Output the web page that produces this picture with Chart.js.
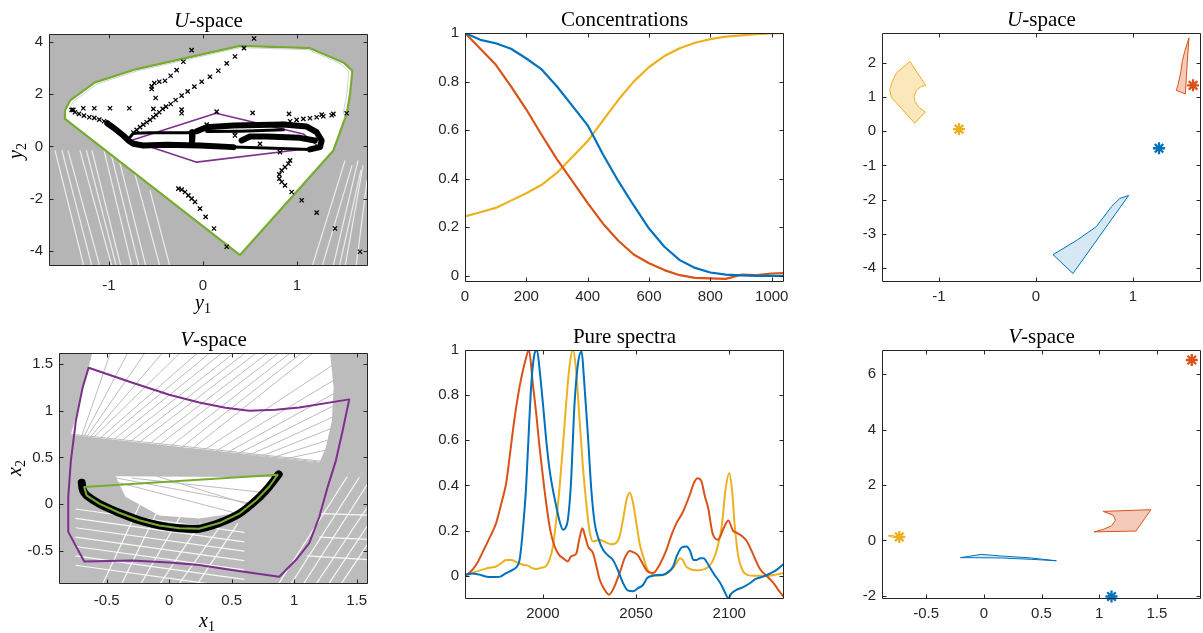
<!DOCTYPE html>
<html>
<head>
<meta charset="utf-8">
<script src="https://cdn.jsdelivr.net/npm/chart.js@4.4.1/dist/chart.umd.min.js"></script>
<style>
html,body{margin:0;padding:0;background:#fff;overflow:hidden;width:1203px;height:633px;position:relative}
canvas{position:absolute}
.t{position:absolute;font-family:"Liberation Serif","Times New Roman",serif;color:#000;white-space:nowrap}
.title{font-size:21px;line-height:21px;text-align:center}
.lab{font-size:20px;line-height:20px;font-style:italic}
.lab sub{font-size:14px;font-style:normal;vertical-align:-4px;line-height:0}
</style>
</head>
<body>
<script>
// ---------------- colours ----------------
const C_BLUE = '#0072BD', C_RED = '#D95319', C_YEL = '#EDB120';
const C_GREEN = '#77AC30', C_PURPLE = '#7E2F8E';

// ================= U-space (scores) =================
const uXTicks = [-1, 0, 1];
const uYTicks = [-4, -2, 0, 2, 4];
const uFeasibleRegion = [[-2,-5],[2,-5],[2,5],[-2,5],[-2,-5]];
const uHull = [[-1.468,1.371],[-1.415,1.752],[-1.149,2.451],[-0.706,2.959],[0.394,3.848],[1.138,3.759],
  [1.493,3.213],[1.589,2.895],[1.564,2.006],[1.528,1.244],[1.387,-0.152],[0.394,-4.152],[-1.468,1.054],[-1.468,1.371]];
const uHullEdge = [[-1.43,1.36],[-1.38,1.72],[-1.12,2.40],[-0.69,2.90],[0.394,3.78],[1.12,3.70],
  [1.46,3.17],[1.55,2.87],[1.53,2.0],[1.49,1.24]];
const uInner = [[-0.766,0.23],[0.138,1.27],[1.067,0.48],[1.237,-0.03],[-0.067,-0.60],[-0.766,0.23]];
const uGaps = [
  [[-1.266,-4.6],[-1.574,-0.152]], [[-1.18,-4.6],[-1.50,-0.152]], [[-1.096,-4.6],[-1.436,-0.152]],
  [[-0.968,-4.6],[-1.309,-0.152]], [[-0.92,-4.6],[-1.24,-0.152]], [[-0.872,-4.6],[-1.181,-0.152]],
  [[-0.755,-4.6],[-1.053,-0.152]], [[-0.68,-4.6],[-0.98,-0.25]], [[-0.606,-4.6],[-0.904,-0.343]],
  [[-0.457,-4.6],[-0.734,-0.914]], [[-0.351,-4.6],[-0.564,-1.676]],
  [[1.160,-4.6],[1.511,-0.533]], [[1.266,-4.6],[1.585,-0.724]], [[1.383,-4.6],[1.649,-0.533]],
  [[1.45,-4.6],[1.68,-0.9]], [[1.511,-4.6],[1.702,-0.724]], [[1.628,-4.6],[1.745,-1.295]]
];
const uPoints = [
  [0.340,3.441],[0.252,3.175],[0.163,2.895],[0.074,2.667],[-0.014,2.476],[-0.092,2.286],[-0.163,2.108],
  [-0.227,1.943],[-0.291,1.778],[-0.344,1.625],[-0.394,1.524],[-0.429,1.435],[-0.465,1.308],[-0.5,1.206],
  [-0.528,1.117],[-0.564,1.016],[-0.599,0.927],[-0.635,0.838],[-0.670,0.737],[-0.706,0.635],[-0.741,0.533],
  [0.436,3.759],[0.543,4.127],
  [-0.121,3.683],[-0.209,3.238],[-0.280,2.921],[-0.344,2.705],[-0.404,2.514],[-0.465,2.476],[-0.518,2.425],
  [-0.546,2.298],[-0.546,2.197],[-0.504,1.854],[-0.528,1.435],[-0.227,1.410],[-0.227,1.270],[0.039,0.838],
  [0.340,0.546],[0.340,0.419],
  [-1.379,1.397],[-1.273,1.460],[-1.156,1.460],[-0.989,1.460],[-0.784,1.460],[0.145,1.333],[0.528,1.283],
  [0.915,1.244],[1.262,1.219],[1.387,1.244],[1.528,1.270],
  [-1.397,1.397],[-1.362,1.308],[-1.319,1.244],[-1.266,1.181],[-1.209,1.117],[-1.156,1.092],[-1.103,1.029],[-1.053,0.965],
  [0.855,0.863],[0.926,0.965],[0.996,1.016],[1.067,1.054],[1.138,1.079],[1.209,1.117],[1.280,1.156],[1.369,1.194],
  [0.926,-0.533],[0.908,-0.660],[0.872,-0.787],[0.837,-0.914],[0.812,-1.067],[0.812,-1.232],[0.837,-1.359],
  [0.872,-1.486],[0.943,-1.740],[1.050,-2.057],[1.209,-2.527],[1.404,-3.137],[1.670,-4.025],
  [0.606,0.102],[0.819,-0.216],
  [-0.262,-1.613],[-0.227,-1.651],[-0.191,-1.740],[-0.156,-1.867],[-0.121,-1.994],[-0.085,-2.121],
  [-0.032,-2.375],[0.028,-2.692],[0.117,-3.137],[0.252,-3.835]
];
const uDenseTracks = [
  [[-1.018,0.889],[-0.936,0.673],[-0.848,0.419],[-0.794,0.229],[-0.741,0.102],[-0.635,0.038],[-0.387,0.063],[-0.032,0.038],[0.323,-0.025]],
  [[-0.067,0.584],[0.039,0.737],[0.323,0.8],[0.855,0.838],[1.103,0.762],[1.209,0.546],[1.262,0.229],[1.245,-0.025],[1.138,-0.114]],
  [[0.411,0.229],[0.5,0.381],[0.677,0.381],[1.032,0.330],[1.191,0.229]],
  [[-0.110,0.546],[-0.117,0.076]]
];
const uThinTracks = [
  [[-0.777,0.356],[-0.741,0.508],[-0.564,0.521],[-0.121,0.521]],
  [[0.323,-0.025],[0.677,-0.063],[1.138,-0.114]],
  [[0.039,0.571],[0.394,0.584],[0.855,0.635]]
];

// ================= Concentrations =================
const concTime = [0,50,100,150,200,250,300,350,400,450,500,550,600,650,700,750,800,850,900,950,1000,1040];
const concBlue = [1.0,0.972,0.958,0.935,0.895,0.85,0.78,0.70,0.62,0.50,0.39,0.29,0.195,0.12,0.065,0.033,0.014,0.005,0.002,0.0,0.0,0.0];
const concRed  = [1.0,0.935,0.87,0.78,0.685,0.58,0.48,0.39,0.30,0.215,0.145,0.088,0.052,0.024,0.003,-0.008,-0.01,-0.012,0.005,0.003,0.01,0.012];
const concYel  = [0.245,0.262,0.28,0.31,0.34,0.375,0.425,0.49,0.555,0.64,0.725,0.80,0.86,0.905,0.937,0.96,0.975,0.985,0.99,0.995,0.998,1.0];
const concXTicks = [0,200,400,600,800,1000];
const concYTicks = [0,0.2,0.4,0.6,0.8,1];

// ================= U-space (regions) =================
const u2XTicks = [-1, 0, 1];
const u2YTicks = [-4,-3,-2,-1,0,1,2];
const u2RegionYel = [[-1.302,2.04],[-1.440,1.70],[-1.481,1.46],[-1.509,1.22],[-1.491,0.98],[-1.423,0.78],[-1.251,0.23],
  [-1.141,0.56],[-1.206,0.69],[-1.247,0.86],[-1.258,1.02],[-1.234,1.19],[-1.192,1.29],[-1.137,1.34],[-1.302,2.04]];
const u2RegionRed = [[1.577,2.73],[1.533,2.33],[1.509,2.06],[1.491,1.70],[1.464,1.36],[1.447,1.19],[1.540,1.09],
  [1.550,1.56],[1.560,2.04],[1.577,2.73]];
const u2RegionBlue = [[0.955,-1.88],[0.863,-1.97],[0.777,-2.21],[0.622,-2.79],[0.416,-3.20],[0.175,-3.61],[0.381,-4.16],[0.955,-1.88]];
const u2TrueYel = [[-0.794,0.06]];
const u2TrueBlue = [[1.268,-0.50]];
const u2TrueRed = [[1.619,1.34]];

// ================= V-space (loadings) =================
const vXTicks = [-0.5,0,0.5,1,1.5];
const vYTicks = [-0.5,0,0.5,1,1.5];
const vMesh = [[-1,-1],[1.7,-1],[1.7,1.8],[-1,1.8],[-1,-1]];
const vOpenUpper = [[-0.6,1.7],[1.28,1.7],[1.315,1.246],[1.301,0.892],[1.253,0.609],[1.2,0.439],[-0.787,0.743],[-0.72,1.069],[-0.6,1.7]];
const vOpenLower = [[-0.43,0.30],[0.85,0.29],[0.76,0.10],[0.667,0.02],[0.5,-0.10],[0.24,-0.15],[-0.08,-0.12],[-0.35,0.08],[-0.43,0.30]];
const vLightLines = [
  [[-0.75,-0.05],[0.6,-0.30]],[[-0.75,-0.15],[0.6,-0.40]],[[-0.75,-0.25],[0.6,-0.50]],[[-0.75,-0.35],[0.6,-0.60]],
  [[-0.75,-0.45],[0.6,-0.70]],[[-0.75,-0.55],[0.6,-0.80]],[[-0.75,-0.65],[0.6,-0.90]],
  [[-0.55,-0.9],[-0.2,0.1]],[[-0.4,-0.9],[-0.05,0.05]],[[-0.25,-0.9],[0.1,-0.1]],[[-0.1,-0.9],[0.25,-0.2]],
  [[0.05,-0.9],[0.4,-0.25]],[[0.2,-0.9],[0.55,-0.2]],
  [[0.95,-0.9],[1.55,0.35]],[[1.05,-0.9],[1.65,0.35]],[[1.15,-0.9],[1.7,0.2]],[[1.25,-0.9],[1.7,0.0]],
  [[1.35,-0.9],[1.7,-0.2]],[[0.85,-0.9],[1.45,0.35]],
  [[1.2,-0.1],[1.7,-0.12]],[[1.2,-0.35],[1.7,-0.38]],[[1.1,-0.55],[1.7,-0.6]]
];
const vFanLines = [
  [[-0.70,0.73],[-0.45,1.7]],[[-0.68,0.73],[-0.30,1.7]],[[-0.66,0.72],[-0.15,1.7]],
  [[-0.63,0.72],[0.00,1.7]],[[-0.60,0.72],[0.15,1.7]],[[-0.55,0.71],[0.30,1.7]],
  [[-0.50,0.705],[0.40,1.7]],[[-0.44,0.695],[0.50,1.7]],[[-0.38,0.68],[0.60,1.7]],[[-0.31,0.67],[0.69,1.7]],
  [[-0.24,0.66],[0.78,1.7]],[[-0.16,0.645],[0.87,1.7]],[[-0.08,0.635],[0.96,1.7]],[[0.01,0.62],[1.05,1.7]],
  [[0.10,0.61],[1.14,1.7]],[[0.19,0.60],[1.23,1.7]],[[0.28,0.58],[1.30,1.48]],[[0.37,0.565],[1.31,1.32]],
  [[0.46,0.55],[1.315,1.18]],[[0.55,0.54],[1.312,1.05]],[[0.64,0.525],[1.305,0.93]],[[0.73,0.51],[1.295,0.81]],
  [[0.82,0.495],[1.28,0.69]],[[0.91,0.48],[1.26,0.58]],
  [[-0.9,0.765],[1.7,0.39]],[[-0.9,0.744],[1.7,0.382]],[[-0.9,0.724],[1.7,0.374]],[[-0.9,0.703],[1.7,0.366]],
  [[-0.9,0.683],[1.7,0.358]],[[-0.9,0.662],[1.7,0.35]],[[-0.9,0.642],[1.7,0.342]],[[-0.9,0.621],[1.7,0.334]],
  [[-0.9,0.601],[1.7,0.326]],[[-0.9,0.58],[1.7,0.318]],[[-0.9,0.56],[1.7,0.31]],[[-0.9,0.539],[1.7,0.302]],
  [[-0.9,0.519],[1.7,0.294]],[[-0.9,0.498],[1.7,0.286]],[[-0.9,0.478],[1.7,0.278]],
  [[-0.6,0.3],[0.55,-0.1]],[[-0.5,0.3],[0.7,0.0]],[[-0.3,0.28],[0.8,0.12]],[[-0.1,0.3],[0.75,-0.05]]
];
const vOuter = [[-0.645,1.458],[-0.3,1.30],[0.0,1.17],[0.24,1.086],[0.45,1.03],[0.64,0.998],[0.85,1.01],[1.04,1.033],[1.44,1.12],
  [1.387,0.786],[1.333,0.467],[1.267,0.184],[1.2,-0.135],[1.12,-0.414],[1.013,-0.594],[0.880,-0.772],
  [0.5,-0.70],[0.24,-0.648],[0.0,-0.62],[-0.3,-0.6],[-0.68,-0.61],[-0.808,-0.294],[-0.808,0.078],[-0.787,0.467],
  [-0.747,0.892],[-0.693,1.246],[-0.645,1.458]];
const vCurve = [[-0.68,0.184],[-0.661,0.096],[-0.56,0.007],[-0.40,-0.090],[-0.24,-0.170],[-0.08,-0.225],[0.08,-0.255],
  [0.24,-0.26],[0.40,-0.20],[0.56,-0.10],[0.70,0.05],[0.80,0.19],[0.867,0.315],[-0.68,0.184]];
const vData = [[-0.70,0.23],[-0.69,0.15],[-0.661,0.096],[-0.56,0.007],[-0.40,-0.090],[-0.24,-0.170],[-0.08,-0.225],[0.08,-0.255],
  [0.24,-0.26],[0.40,-0.20],[0.56,-0.10],[0.70,0.05],[0.80,0.19],[0.875,0.32]];

// ================= Pure spectra =================
const specXTicks = [2000,2050,2100];
const specYTicks = [0,0.2,0.4,0.6,0.8,1];
const specRedX = [1958.5,1962,1965,1968,1971.5,1974.9,1978,1980.3,1982.5,1984.5,1986.5,1988.5,1990.5,1992.5,1994.6,1996.4,1998.2,2000,2001.8,2004,2006.3,2008.5,2010.8,2013.4,2015,2016.5,2018,2019.5,2021.2,2022.8,2024.2,2026.9,2028.5,2030.5,2033,2035.5,2038,2041.2,2044,2046.5,2048.4,2051,2053.8,2056,2059.1,2062,2066.3,2069,2071.7,2075,2078.9,2081,2083,2085,2087,2088.7,2091,2094,2097,2099.5,2102,2104,2107,2109.3,2112,2116.5,2120,2123.7,2127,2129.4];
const specRedY = [0.0,0.025,0.06,0.11,0.17,0.233,0.33,0.41,0.55,0.68,0.79,0.88,0.95,1.0,0.85,0.72,0.57,0.44,0.32,0.2,0.13,0.095,0.078,0.063,0.085,0.09,0.1,0.16,0.21,0.17,0.13,0.10,0.05,-0.018,-0.06,-0.084,-0.055,0.012,0.08,0.11,0.105,0.09,0.05,0.02,0.012,0.04,0.115,0.18,0.233,0.28,0.36,0.41,0.432,0.42,0.35,0.30,0.19,0.16,0.21,0.245,0.2,0.19,0.175,0.155,0.11,0.03,0.0,-0.032,-0.07,-0.095];
const specBlueX = [1958.5,1962,1966,1971,1976.7,1980,1984,1986,1987.5,1989,1991,1992.5,1993.7,1995.2,1996.8,1998.4,2000,2001.8,2003.6,2005.4,2007.2,2009,2010.8,2012,2013.4,2015,2017,2019,2020.8,2022,2024.2,2026,2027.8,2030,2032.3,2035,2037.6,2040,2043,2045.5,2048.4,2051,2053.8,2056,2059.1,2062,2064.5,2067,2069.9,2072,2074.5,2077.1,2079,2080.8,2082.5,2084.5,2086.2,2088,2089.8,2092,2095.2,2097.5,2099.6,2101,2104.1,2107.5,2111.3,2114,2118.5,2122,2125.6,2129.4];
const specBlueY = [0.005,0.01,0.005,-0.006,-0.005,0.01,0.027,0.04,0.07,0.18,0.395,0.65,0.838,0.97,1.0,0.9,0.764,0.6,0.469,0.38,0.307,0.24,0.204,0.21,0.248,0.4,0.764,0.95,0.993,0.88,0.617,0.38,0.233,0.16,0.115,0.09,0.07,0.03,-0.032,-0.065,-0.069,-0.055,-0.04,-0.01,0.0,0.003,0.004,0.015,0.041,0.09,0.125,0.13,0.11,0.07,0.07,0.078,0.078,0.06,0.034,0.005,-0.032,-0.07,-0.1,-0.08,-0.062,-0.05,-0.032,-0.015,-0.003,0.01,0.027,0.053];
const specYelX = [1958.5,1963,1967.7,1971,1974.9,1977.5,1980.3,1983,1986,1989,1992,1994,1996.4,1999,2001.8,2003.5,2005.4,2007.2,2009,2010.8,2012.5,2014.3,2016.1,2017.6,2019.7,2021.5,2023.3,2025,2026.9,2028.5,2030.5,2032,2034.1,2036.5,2038.5,2041,2043,2045,2046.6,2048.2,2050.2,2052,2053.8,2056,2059,2062,2064.5,2067,2069.9,2072,2073.5,2075,2077,2079,2081,2084.2,2087,2089.5,2091.4,2093.5,2096,2098,2100,2101.5,2103,2105,2107.5,2110,2112.9,2120,2125,2129.4];
const specYelY = [0.0,0.015,0.027,0.035,0.041,0.055,0.07,0.07,0.06,0.05,0.045,0.035,0.03,0.035,0.044,0.07,0.13,0.25,0.395,0.58,0.764,0.93,1.0,0.93,0.69,0.48,0.32,0.2,0.152,0.155,0.159,0.155,0.147,0.14,0.142,0.17,0.248,0.34,0.368,0.33,0.23,0.14,0.086,0.03,0.005,0.0,0.003,0.012,0.035,0.06,0.078,0.07,0.04,0.03,0.025,0.024,0.03,0.045,0.07,0.12,0.22,0.38,0.454,0.38,0.218,0.08,0.019,0.003,0.0,0.0,0.005,0.012];

// ================= V-space (regions) =================
const v2XTicks = [-0.5,0,0.5,1,1.5];
const v2YTicks = [-2,0,2,4,6];
const v2RegionRed = [[1.035,1.05],[1.122,0.91],[1.142,0.73],[1.107,0.53],[1.035,0.40],[0.957,0.31],[1.319,0.34],[1.449,1.11],[1.035,1.05]];
const v2RegionBlue = [[-0.203,-0.62],[-0.023,-0.50],[0.151,-0.56],[0.383,-0.62],[0.629,-0.73],[0.412,-0.68],[0.151,-0.63],[-0.081,-0.62],[-0.203,-0.62]];
const v2RegionYel = [[-0.829,0.17],[-0.791,0.19],[-0.762,0.13],[-0.79,0.12],[-0.829,0.17]];
const v2TrueYel = [[-0.733,0.13]];
const v2TrueBlue = [[1.107,-2.02]];
const v2TrueRed = [[1.803,6.51]];

// ---------------- helpers ----------------
const pts = a => a.map(([x, y]) => ({x, y}));
const zip = (xs, ys) => xs.map((x, i) => ({x, y: ys[i]}));

function line(data, color, width, extra) {
  return Object.assign({data, borderColor: color, borderWidth: width, pointRadius: 0, fill: false,
    borderJoinStyle: 'round', borderCapStyle: 'round'}, extra || {});
}
function region(data, stroke, fillColor, width) {
  return {data, borderColor: stroke, borderWidth: width, backgroundColor: fillColor, fill: 'shape', pointRadius: 0,
    borderJoinStyle: 'round'};
}
function marks(data, style, color, radius, bw) {
  return {data, showLine: false, pointStyle: style, pointRadius: radius, pointBorderColor: color,
    pointBackgroundColor: color, pointBorderWidth: bw, borderColor: color, clip: false};
}
function segments(list, color, width) {
  return list.map(s => line(pts(s), color, width, {borderCapStyle: 'butt'}));
}

// box with inward tick marks on all four sides
const boxTicks = {
  id: 'boxTicks',
  afterDatasetsDraw(chart) {
    const {ctx, chartArea: a, scales: {x, y}} = chart;
    const L = Math.round(a.left) + 0.5, R = Math.round(a.right) - 0.5;
    const T = Math.round(a.top) + 0.5, B = Math.round(a.bottom) - 0.5;
    const len = 4;
    ctx.save();
    ctx.strokeStyle = '#262626';
    ctx.lineWidth = 1;
    ctx.beginPath();
    ctx.rect(L, T, R - L, B - T);
    x.ticks.forEach(t => {
      const p = Math.round(x.getPixelForValue(t.value)) + 0.5;
      ctx.moveTo(p, B); ctx.lineTo(p, B - len);
      ctx.moveTo(p, T); ctx.lineTo(p, T + len);
    });
    y.ticks.forEach(t => {
      const p = Math.round(y.getPixelForValue(t.value)) + 0.5;
      ctx.moveTo(L, p); ctx.lineTo(L + len, p);
      ctx.moveTo(R, p); ctx.lineTo(R - len, p);
    });
    ctx.stroke();
    ctx.restore();
  }
};

const PAD_L = 50, PAD_T = 14, PAD_R = 24, PAD_B = 34;
const tickFont = {family: '"Liberation Sans", Arial, Helvetica, sans-serif', size: 15};

function axis(min, max, ticks, isX, pad) {
  return {
    type: 'linear', min, max,
    grid: {display: false, drawTicks: false}, border: {display: false},
    afterBuildTicks: s => { s.ticks = ticks.map(v => ({value: v})); },
    afterFit: s => { if (isX) s.height = PAD_B; else s.width = PAD_L; },
    ticks: {color: '#262626', font: tickFont, padding: pad, autoSkip: false, maxRotation: 0,
      callback: v => String(v)}
  };
}

function panel(rect, xr, yr, xt, yt, layers) {
  const cv = document.createElement('canvas');
  const w = rect.R - rect.L + PAD_L + PAD_R, h = rect.B - rect.T + PAD_T + PAD_B;
  cv.width = w; cv.height = h;
  cv.style.left = (rect.L - PAD_L) + 'px';
  cv.style.top = (rect.T - PAD_T) + 'px';
  cv.style.width = w + 'px'; cv.style.height = h + 'px';
  document.body.appendChild(cv);
  // first layer is drawn at the bottom
  const n = layers.length;
  layers.forEach((d, i) => { d.order = n - i; if (d.clip === undefined) d.clip = 0; });
  new Chart(cv, {
    type: 'line',
    data: {datasets: layers},
    options: {
      responsive: false, animation: false, events: [], devicePixelRatio: 1,
      layout: {padding: {left: 0, top: PAD_T, right: PAD_R, bottom: 0}},
      plugins: {legend: {display: false}, tooltip: {enabled: false}},
      scales: {x: axis(xr[0], xr[1], xt, true, rect.xPad), y: axis(yr[0], yr[1], yt, false, 6)}
    },
    plugins: [boxTicks]
  });
}

function text(html, cls, css) {
  const d = document.createElement('div');
  d.className = 't ' + cls;
  d.innerHTML = html;
  Object.assign(d.style, css);
  document.body.appendChild(d);
  return d;
}
function title(html, rect) {
  // baseline sits about 6px above the axes box
  text(html, 'title', {left: rect.L + 'px', width: (rect.R - rect.L) + 'px', top: (rect.T - 6 - 17) + 'px'});
}

// ---------------- panels ----------------
const R1 = {L: 49, T: 33, R: 368, B: 266, xPad: 11};
const R2 = {L: 465, T: 32, R: 784, B: 282, xPad: 6};
const R3 = {L: 882, T: 32, R: 1201, B: 282, xPad: 6};
const R4 = {L: 59, T: 352, R: 368, B: 584, xPad: 8};
const R5 = {L: 465, T: 349, R: 784, B: 599, xPad: 6};
const R6 = {L: 882, T: 349, R: 1201, B: 599, xPad: 6};

panel(R1, [-1.638, 1.755], [-4.57, 4.30], uXTicks, uYTicks, [
  region(pts(uFeasibleRegion), 'rgba(0,0,0,0)', '#b5b5b5', 0),
  ...segments(uGaps, 'rgba(255,255,255,0.75)', 1.2),
  region(pts(uHull), C_GREEN, '#ffffff', 2.2),
  line(pts(uHullEdge), '#d2d2d2', 1),
  line(pts(uInner), C_PURPLE, 1.6),
  ...uDenseTracks.map(t => line(pts(t), '#000', 6)),
  ...uThinTracks.map(t => line(pts(t), '#000', 3)),
  marks(pts(uPoints), 'crossRot', '#000', 3, 1.3)
]);

panel(R2, [0, 1040], [-0.025, 1.0], concXTicks, concYTicks, [
  line(zip(concTime, concYel), C_YEL, 2.2),
  line(zip(concTime, concRed), C_RED, 2.2),
  line(zip(concTime, concBlue), C_BLUE, 2.2)
]);

panel(R3, [-1.588, 1.701], [-4.41, 2.87], u2XTicks, u2YTicks, [
  region(pts(u2RegionYel), C_YEL, 'rgba(237,177,32,0.3)', 1),
  region(pts(u2RegionRed), C_RED, 'rgba(217,83,25,0.3)', 1),
  region(pts(u2RegionBlue), C_BLUE, 'rgba(0,114,189,0.16)', 1),
  marks(pts(u2TrueYel), 'star', C_YEL, 6, 2.3),
  marks(pts(u2TrueBlue), 'star', C_BLUE, 6, 2.3),
  marks(pts(u2TrueRed), 'star', C_RED, 6, 2.3)
]);

panel(R4, [-0.882, 1.59], [-0.85, 1.615], vXTicks, vYTicks, [
  region(pts(vMesh), 'rgba(0,0,0,0)', '#bcbcbc', 0),
  ...segments(vLightLines, 'rgba(255,255,255,0.9)', 1.2),
  region(pts(vOpenUpper), 'rgba(0,0,0,0)', '#ffffff', 0),
  region(pts(vOpenLower), 'rgba(0,0,0,0)', '#ffffff', 0),
  ...segments(vFanLines, '#bdbdbd', 1),
  line(pts(vOuter), C_PURPLE, 2),
  line(pts(vData), '#000', 8, {tension: 0.3}),
  line(pts(vCurve), C_GREEN, 2)
]);

panel(R5, [1958.2, 2129.4], [-0.103, 1.0], specXTicks, specYTicks, [
  line(zip(specYelX, specYelY), C_YEL, 2, {cubicInterpolationMode: 'monotone'}),
  line(zip(specRedX, specRedY), C_RED, 2, {cubicInterpolationMode: 'monotone'}),
  line(zip(specBlueX, specBlueY), C_BLUE, 2, {cubicInterpolationMode: 'monotone'})
]);

panel(R6, [-0.883, 1.883], [-2.11, 6.87], v2XTicks, v2YTicks, [
  region(pts(v2RegionRed), C_RED, 'rgba(217,83,25,0.3)', 1),
  region(pts(v2RegionBlue), C_BLUE, 'rgba(0,114,189,0.16)', 1),
  region(pts(v2RegionYel), C_YEL, 'rgba(237,177,32,0.3)', 1),
  marks(pts(v2TrueYel), 'star', C_YEL, 6, 2.3),
  marks(pts(v2TrueBlue), 'star', C_BLUE, 6, 2.3),
  marks(pts(v2TrueRed), 'star', C_RED, 6, 2.3)
]);

// ---------------- titles and axis labels ----------------
title('<i>U</i>-space', R1);
title('Concentrations', R2);
title('<i>U</i>-space', R3);
title('<i>V</i>-space', R4);
title('Pure spectra', R5);
title('<i>V</i>-space', R6);

text('y<sub>1</sub>', 'lab', {left: '195px', top: '292px'});
text('y<sub>2</sub>', 'lab', {left: '7px', top: '141px', transform: 'rotate(-90deg)'});
text('x<sub>1</sub>', 'lab', {left: '199px', top: '610px'});
text('x<sub>2</sub>', 'lab', {left: '6px', top: '458px', transform: 'rotate(-90deg)'});
</script>
</body>
</html>
